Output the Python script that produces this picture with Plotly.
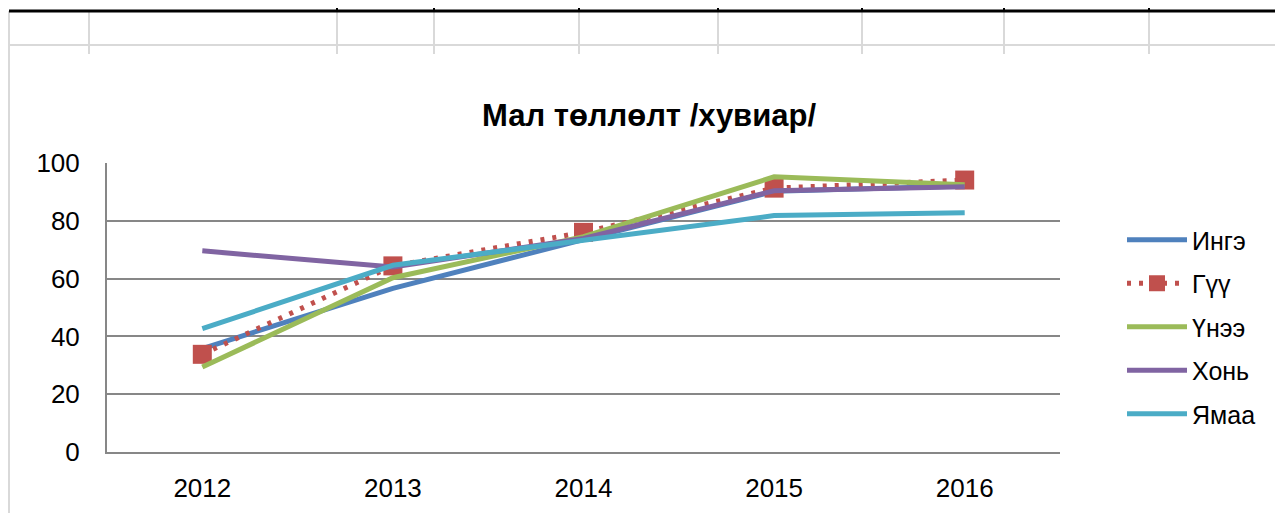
import plotly.graph_objects as go

years = ["2012", "2013", "2014", "2015", "2016"]
series_names = ["Ингэ", "Гүү", "Үнээ", "Хонь", "Ямаа"]
inge = [35.8, 56.6, 73.5, 90.2, 92.0]
guu = [33.8, 64.4, 76.0, 91.3, 94.1]
unee = [29.4, 60.3, 74.5, 95.2, 92.5]
khoni = [69.6, 64.0, 73.9, 90.4, 91.8]
yamaa = [42.7, 64.6, 73.3, 81.8, 82.8]
y_ticks = [0, 20, 40, 60, 80, 100]
title_text = "Мал төллөлт /хувиар/"

colors = ["#4F81BD", "#C0504D", "#9BBB59", "#8064A2", "#4BACC6"]
values = [inge, guu, unee, khoni, yamaa]

OFF = 8  # default page body margin
W, H = 1283 - OFF, 513 - OFF
# plot area in page pixels
PL, PR, PT, PB = 107, 1060, 163, 452
L, R, T, B = PL - OFF, PR - OFF, PT - OFF, PB - OFF
FONT = "Liberation Sans, Arial, sans-serif"

fig = go.Figure()
for name, vals, col in zip(series_names, values, colors):
    if name == "Гүү":
        fig.add_trace(go.Scatter(
            x=years, y=vals, name=name, mode="lines+markers",
            line=dict(color=col, width=5, dash="4px,8px"),
            marker=dict(symbol="square", size=19, color=col),
            legendgroup=name,
        ))
    else:
        fig.add_trace(go.Scatter(
            x=years, y=vals, name=name, mode="lines",
            line=dict(color=col, width=5),
            legendgroup=name,
        ))


def px(x):
    """page x pixel -> paper"""
    return (x - OFF - L) / (R - L)


def py(y):
    """page y pixel -> paper"""
    return (B - (y - OFF)) / (B - T)


shapes = []
light = "#D9D9D9"
for xv in [89, 337, 434, 579, 718, 862, 1004, 1149]:
    shapes.append(dict(type="line", xref="paper", yref="paper",
                       x0=px(xv), x1=px(xv), y0=py(11), y1=py(54),
                       line=dict(color=light, width=2), layer="below"))
shapes.append(dict(type="line", xref="paper", yref="paper",
                   x0=px(9), x1=px(1290), y0=py(45), y1=py(45),
                   line=dict(color=light, width=2), layer="below"))
shapes.append(dict(type="line", xref="paper", yref="paper",
                   x0=px(9), x1=px(9), y0=py(11), y1=py(520),
                   line=dict(color=light, width=2), layer="below"))
for xv in [337, 434, 579, 718, 862, 1004, 1149]:
    shapes.append(dict(type="line", xref="paper", yref="paper",
                       x0=px(xv), x1=px(xv), y0=py(0), y1=py(11),
                       line=dict(color="black", width=2), layer="below"))
shapes.append(dict(type="line", xref="paper", yref="paper",
                   x0=px(9), x1=px(1290), y0=py(11), y1=py(11),
                   line=dict(color="black", width=3), layer="below"))

fig.update_layout(
    width=W, height=H,
    margin=dict(l=L, r=W - R, t=T, b=H - B, autoexpand=False),
    paper_bgcolor="white", plot_bgcolor="white",
    font=dict(family=FONT, size=25, color="black"),
    title=dict(text="<b>" + title_text + "</b>", x=(649 - OFF) / W,
               xanchor="center", y=1 - (115 - OFF) / H, yanchor="middle",
               yref="container",
               font=dict(family=FONT, size=31, color="black")),
    xaxis=dict(type="category", range=[-0.5, 4.5], showgrid=False,
               showline=True, linecolor="#878787", linewidth=2,
               ticks="", tickfont=dict(size=26), fixedrange=True,
               ticklabelstandoff=12),
    yaxis=dict(range=[0, 100], tickvals=y_ticks, showgrid=True,
               gridcolor="#878787", gridwidth=2,
               showline=True, linecolor="#878787", linewidth=2,
               ticks="", tickfont=dict(size=26),
               zeroline=False, fixedrange=True, ticklabelstandoff=20),
    legend=dict(x=px(1122), y=py(217), xanchor="left", yanchor="top",
                font=dict(size=25), traceorder="grouped",
                tracegroupgap=8, itemwidth=60, bgcolor="rgba(0,0,0,0)"),
    shapes=shapes,
    showlegend=True,
)

fig.write_html("out.html")
